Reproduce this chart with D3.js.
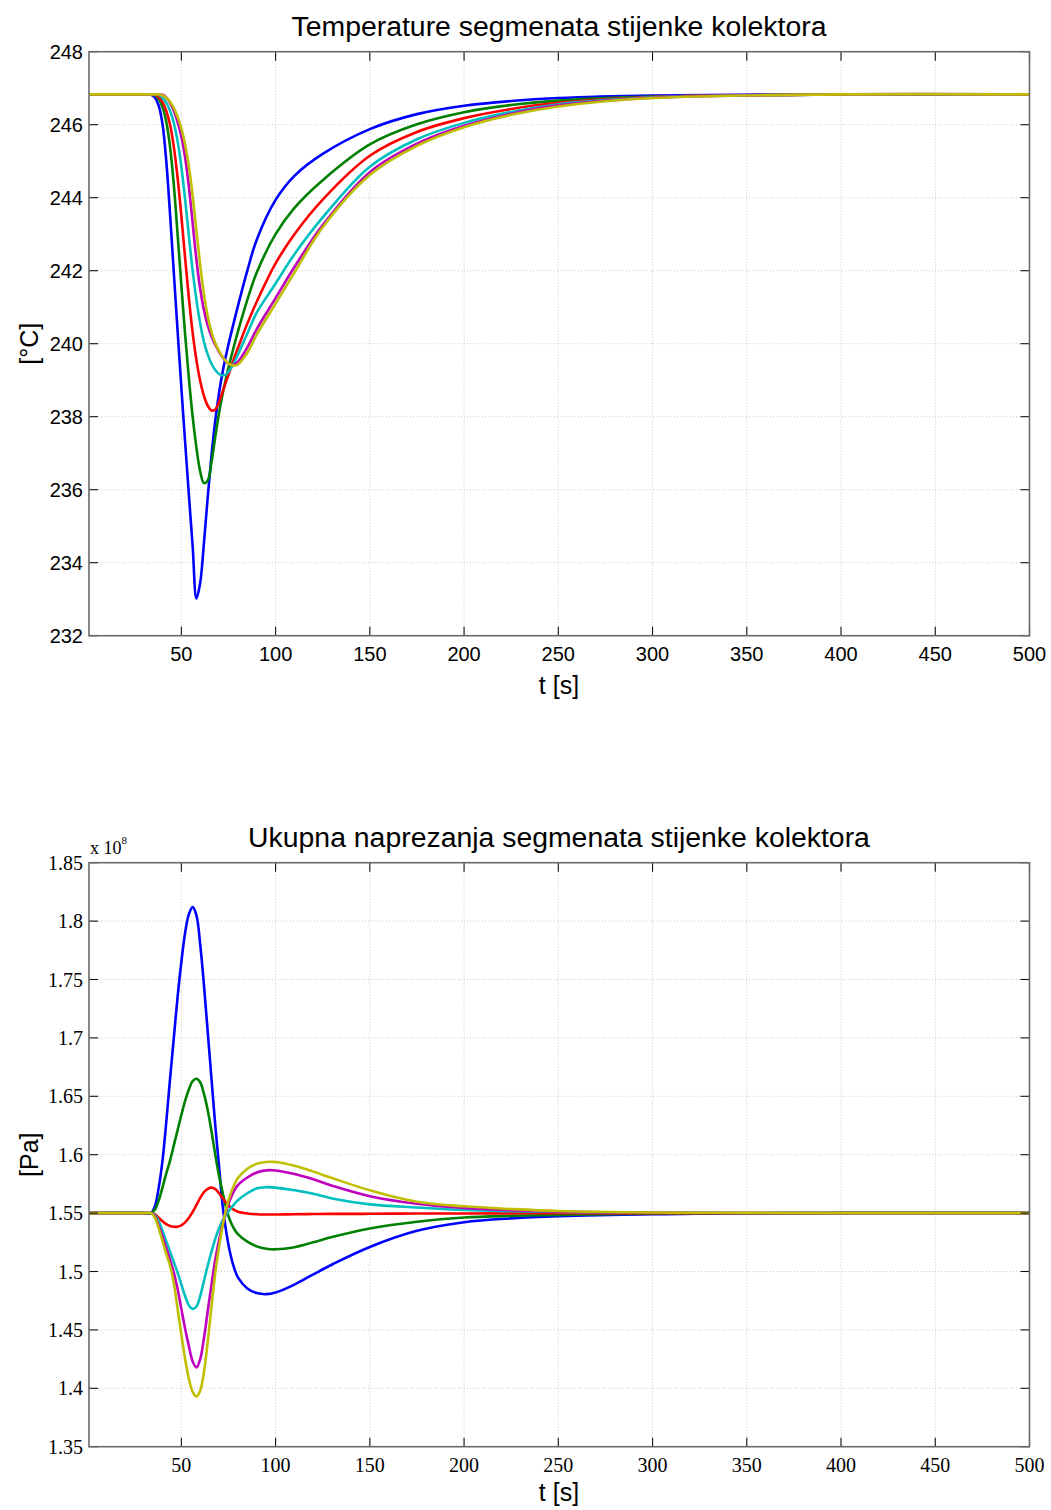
<!DOCTYPE html>
<html><head><meta charset="utf-8">
<script src="https://cdn.jsdelivr.net/npm/d3@7/dist/d3.min.js"></script>
<style>body{margin:0;background:#fff}</style>
</head><body>
<svg id="c" width="1051" height="1510" xmlns="http://www.w3.org/2000/svg"></svg>
<script>
// ---------- data ----------
const seriesColors = ["#0000ff", "#008000", "#ff0000", "#00bfbf", "#bf00bf", "#bfbf00"];

const xTicks = [50, 100, 150, 200, 250, 300, 350, 400, 450, 500];

// Top panel: wall segment temperatures [°C]
const tempTitle = "Temperature segmenata stijenke kolektora";
const tempTicks = [232, 234, 236, 238, 240, 242, 244, 246, 248];
const tempTime = [1, 30, 34, 36, 38, 40, 42, 44, 46, 48, 50, 52, 54, 56, 58, 60, 62, 64, 66, 68, 70, 72, 74, 76, 78, 80, 85, 90, 100, 110, 125, 150, 175, 200, 225, 250, 300, 400, 500];
const tempBlue    = [246.83, 246.83, 246.82, 246.74, 246.52, 246.02, 245.0, 243.55, 241.95, 240.35, 238.8, 237.3, 235.85, 234.45, 233.02, 233.45, 234.55, 235.8, 236.95, 237.9, 238.65, 239.25, 239.75, 240.2, 240.62, 241.03, 242.0, 242.85, 243.94, 244.6, 245.2, 245.88, 246.29, 246.52, 246.65, 246.73, 246.8, 246.83, 246.83];
const tempGreen   = [246.83, 246.83, 246.83, 246.8, 246.7, 246.48, 246.08, 245.4, 244.35, 243.0, 241.6, 240.25, 239.05, 238.0, 237.15, 236.5, 236.18, 236.25, 236.75, 237.45, 238.1, 238.65, 239.12, 239.55, 239.95, 240.33, 241.2, 241.95, 243.0, 243.72, 244.48, 245.46, 246.01, 246.34, 246.54, 246.66, 246.77, 246.83, 246.83];
const tempRed     = [246.83, 246.83, 246.83, 246.82, 246.76, 246.62, 246.38, 246.0, 245.4, 244.55, 243.5, 242.35, 241.25, 240.3, 239.55, 238.98, 238.57, 238.3, 238.17, 238.2, 238.4, 238.7, 239.0, 239.3, 239.6, 239.88, 240.55, 241.15, 242.2, 243.0, 243.95, 245.15, 245.8, 246.18, 246.43, 246.6, 246.76, 246.83, 246.83];
const tempCyan    = [246.83, 246.83, 246.83, 246.83, 246.81, 246.74, 246.6, 246.38, 246.05, 245.55, 244.85, 243.95, 242.95, 242.0, 241.2, 240.55, 240.05, 239.7, 239.45, 239.28, 239.17, 239.13, 239.17, 239.3, 239.48, 239.7, 240.28, 240.85, 241.65, 242.45, 243.46, 244.85, 245.6, 246.05, 246.35, 246.56, 246.75, 246.83, 246.83];
const tempMagenta = [246.83, 246.83, 246.83, 246.83, 246.83, 246.82, 246.75, 246.6, 246.38, 246.08, 245.68, 245.1, 244.3, 243.3, 242.3, 241.5, 240.92, 240.5, 240.2, 239.97, 239.78, 239.62, 239.5, 239.43, 239.43, 239.5, 239.9, 240.4, 241.25, 242.1, 243.25, 244.7, 245.48, 245.97, 246.3, 246.53, 246.74, 246.83, 246.83];
const tempYellow  = [246.83, 246.83, 246.83, 246.83, 246.83, 246.8, 246.74, 246.63, 246.46, 246.22, 245.9, 245.45, 244.85, 244.05, 243.1, 242.15, 241.35, 240.75, 240.32, 240.02, 239.8, 239.63, 239.5, 239.43, 239.4, 239.43, 239.75, 240.25, 241.1, 241.95, 243.19, 244.62, 245.42, 245.93, 246.27, 246.5, 246.73, 246.83, 246.83];

// Bottom panel: total stress of wall segments [Pa] (x 10^8)
const stressTitle = "Ukupna naprezanja segmenata stijenke kolektora";
const stressTicks = [1.35, 1.4, 1.45, 1.5, 1.55, 1.6, 1.65, 1.7, 1.75, 1.8, 1.85];
const stressTickLabels = ["1.35", "1.4", "1.45", "1.5", "1.55", "1.6", "1.65", "1.7", "1.75", "1.8", "1.85"];
const stressTime = [1, 30, 34, 36, 38, 40, 42, 44, 46, 48, 50, 52, 54, 56, 58, 60, 62, 64, 66, 68, 70, 72, 74, 76, 78, 80, 85, 90, 95, 100, 110, 120, 130, 150, 175, 200, 225, 250, 300, 350, 400, 500];
const stressBlue    = [1.55, 1.55, 1.55, 1.556, 1.572, 1.595, 1.628, 1.665, 1.70, 1.735, 1.765, 1.79, 1.806, 1.812, 1.805, 1.78, 1.745, 1.705, 1.665, 1.625, 1.59, 1.555, 1.532, 1.515, 1.503, 1.495, 1.4855, 1.4815, 1.4806, 1.482, 1.4888, 1.4975, 1.506, 1.521, 1.5348, 1.5422, 1.5455, 1.5473, 1.549, 1.5497, 1.55, 1.55];
const stressGreen   = [1.55, 1.55, 1.55, 1.553, 1.561, 1.572, 1.584, 1.595, 1.608, 1.621, 1.634, 1.646, 1.656, 1.663, 1.665, 1.662, 1.652, 1.638, 1.62, 1.60, 1.582, 1.567, 1.553, 1.543, 1.5365, 1.532, 1.5255, 1.5215, 1.5195, 1.519, 1.5208, 1.525, 1.5295, 1.5368, 1.5426, 1.5462, 1.5476, 1.5484, 1.5495, 1.5499, 1.55, 1.55];
const stressRed     = [1.55, 1.55, 1.55, 1.549, 1.546, 1.543, 1.5405, 1.539, 1.5383, 1.5384, 1.5395, 1.542, 1.546, 1.551, 1.557, 1.563, 1.568, 1.5708, 1.5718, 1.5705, 1.567, 1.5625, 1.5585, 1.555, 1.5527, 1.5512, 1.5497, 1.549, 1.5488, 1.5488, 1.549, 1.5492, 1.5493, 1.5494, 1.5496, 1.5497, 1.5498, 1.5499, 1.55, 1.55, 1.55, 1.55];
const stressCyan    = [1.55, 1.55, 1.55, 1.548, 1.543, 1.535, 1.526, 1.517, 1.508, 1.499, 1.489, 1.479, 1.471, 1.468, 1.47, 1.479, 1.492, 1.505, 1.517, 1.528, 1.537, 1.544, 1.549, 1.5535, 1.5575, 1.561, 1.567, 1.5712, 1.5722, 1.5718, 1.5695, 1.5665, 1.5625, 1.5575, 1.5548, 1.5526, 1.5516, 1.551, 1.5503, 1.5501, 1.55, 1.55];
const stressMagenta = [1.55, 1.55, 1.55, 1.547, 1.539, 1.53, 1.52, 1.51, 1.499, 1.485, 1.468, 1.451, 1.436, 1.423, 1.4178, 1.425, 1.443, 1.466, 1.489, 1.51, 1.527, 1.541, 1.553, 1.562, 1.569, 1.574, 1.5805, 1.5848, 1.5866, 1.5865, 1.5835, 1.579, 1.5735, 1.5645, 1.558, 1.5544, 1.5525, 1.5513, 1.5503, 1.5501, 1.55, 1.55];
const stressYellow  = [1.55, 1.55, 1.55, 1.546, 1.537, 1.526, 1.515, 1.505, 1.49, 1.468, 1.446, 1.425, 1.408, 1.397, 1.393, 1.398, 1.414, 1.44, 1.47, 1.499, 1.521, 1.54, 1.555, 1.566, 1.574, 1.58, 1.588, 1.5922, 1.5938, 1.5937, 1.5905, 1.5855, 1.58, 1.5695, 1.5597, 1.5558, 1.5535, 1.5518, 1.5505, 1.5502, 1.55, 1.55];

// ---------- drawing ----------
const svg = d3.select("#c");
const X0 = 89, X1 = 1029.5;
const x = d3.scaleLinear().domain([1, 500]).range([X0, X1]);
const SANS = "Liberation Sans, Arial, sans-serif";
const SERIF = "Liberation Serif, Times New Roman, serif";

function panel(opt) {
  const y = d3.scaleLinear().domain(opt.yDomain).range([opt.yBottom, opt.yTop]);
  const g = svg.append("g");
  const grid = g.append("g").attr("stroke", "#c4c4c4").attr("stroke-width", 0.9).attr("stroke-dasharray", "1,2");
  xTicks.forEach(t => grid.append("line").attr("x1", x(t)).attr("x2", x(t)).attr("y1", opt.yTop).attr("y2", opt.yBottom));
  opt.yTicks.forEach(v => grid.append("line").attr("x1", X0).attr("x2", X1).attr("y1", y(v)).attr("y2", y(v)));

  const line = d3.line().x(d => x(d[0])).y(d => y(d[1])).curve(d3.curveCatmullRom.alpha(0.5));
  opt.series.forEach((vals, i) => {
    g.append("path").datum(opt.time.map((t, k) => [t, vals[k]]))
      .attr("d", line).attr("fill", "none").attr("stroke", seriesColors[i])
      .attr("stroke-width", 2.6).attr("stroke-linejoin", "round");
  });

  const tk = g.append("g").attr("stroke", "#111").attr("stroke-width", 1.1);
  xTicks.forEach(t => {
    tk.append("line").attr("x1", x(t)).attr("x2", x(t)).attr("y1", opt.yBottom).attr("y2", opt.yBottom - 9);
    tk.append("line").attr("x1", x(t)).attr("x2", x(t)).attr("y1", opt.yTop).attr("y2", opt.yTop + 9);
  });
  opt.yTicks.forEach(v => {
    tk.append("line").attr("x1", X0).attr("x2", X0 + 9).attr("y1", y(v)).attr("y2", y(v));
    tk.append("line").attr("x1", X1).attr("x2", X1 - 9).attr("y1", y(v)).attr("y2", y(v));
  });
  g.append("rect").attr("x", X0).attr("y", opt.yTop).attr("width", X1 - X0).attr("height", opt.yBottom - opt.yTop)
    .attr("fill", "none").attr("stroke", "#6a6a6a").attr("stroke-width", 1.6);

  const lab = g.append("g").attr("fill", "#000").attr("font-family", opt.tickFont).attr("font-size", opt.tickSize);
  xTicks.forEach(t => lab.append("text").attr("x", x(t)).attr("y", opt.xLabelY).attr("text-anchor", "middle").text(t));
  opt.yTicks.forEach((v, i) => lab.append("text").attr("x", 83).attr("y", y(v)).attr("dy", "0.35em")
    .attr("text-anchor", "end").text(opt.yTickLabels ? opt.yTickLabels[i] : v));

  g.append("text").attr("x", 559).attr("y", opt.titleY).attr("text-anchor", "middle")
    .attr("font-family", SANS).attr("font-size", 28.4).text(opt.title);
  g.append("text").attr("x", 559).attr("y", opt.xTitleY).attr("text-anchor", "middle")
    .attr("font-family", SANS).attr("font-size", 25).text("t [s]");
  g.append("text").attr("transform", `translate(38,${(opt.yTop + opt.yBottom) / 2}) rotate(-90)`)
    .attr("text-anchor", "middle").attr("font-family", SANS)
    .attr("font-size", 25).text(opt.yTitle);
  return g;
}

panel({
  yDomain: [232, 248], yTop: 51.7, yBottom: 635.7, yTicks: tempTicks,
  time: tempTime, series: [tempBlue, tempGreen, tempRed, tempCyan, tempMagenta, tempYellow],
  tickFont: SANS, tickSize: 20, xLabelY: 661,
  title: tempTitle, titleY: 36, xTitleY: 694, yTitle: "[°C]"
});

const g2 = panel({
  yDomain: [1.35, 1.85], yTop: 862.7, yBottom: 1446.7, yTicks: stressTicks, yTickLabels: stressTickLabels,
  time: stressTime, series: [stressBlue, stressGreen, stressRed, stressCyan, stressMagenta, stressYellow],
  tickFont: SERIF, tickSize: 20, xLabelY: 1472,
  title: stressTitle, titleY: 847, xTitleY: 1501, yTitle: "[Pa]"
});
const mult = g2.append("text").attr("x", 90).attr("y", 854).attr("font-family", SERIF).attr("font-size", 18);
mult.append("tspan").text("x 10");
mult.append("tspan").attr("dy", -10).attr("font-size", 11).text("8");
</script>
</body></html>
